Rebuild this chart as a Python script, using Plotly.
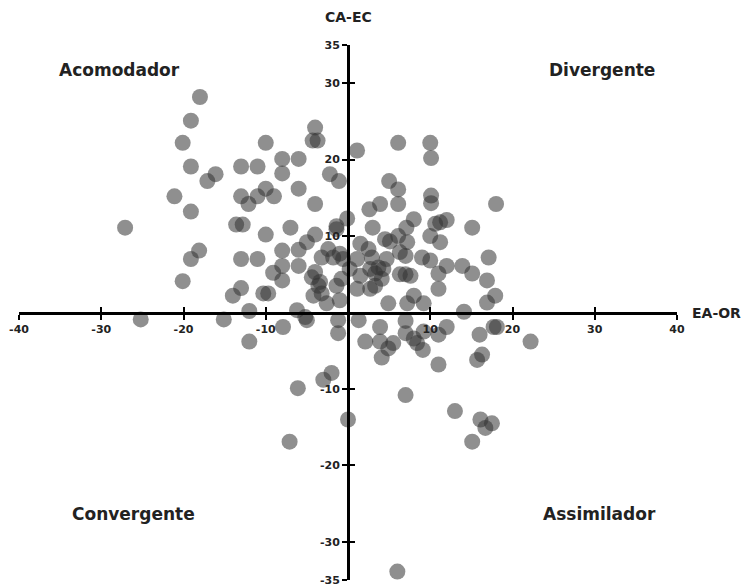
import plotly.graph_objects as go

# EA-OR (x) and CA-EC (y) scores
ea_or = [
    -18.0, -19.1, -20.1, -19.1, -16.1, -17.1, -21.1, -19.1, -27.1, -18.1, -19.1, -20.1,
    -10.0, -13.0, -11.0, -8.0, -6.0, -8.0, -4.0, -4.3, -3.7,
    -13.0, -12.1, -11.0, -10.0, -9.0, -6.0, -4.0, -2.2, -1.1,
    -13.6, -12.8, -10.0, -7.0, -4.0, -5.0, -6.0, -8.0,
    -13.0, -11.0, -8.0, -9.1, -8.0, -6.0,
    -13.0, -14.0, -10.3, -9.7, -12.0,
    -1.4, -2.4, -3.2, -1.8, -1.0, -0.6, -0.1, -1.4,
    -4.4, -4.0, -3.4, -3.6, -4.2, -3.2, -1.4, -1.0, -2.6, -0.8, -6.2, -5.2,
    1.1, 6.1, 10.0, 10.1, 5.0, 6.1, 10.1, 10.1, 6.1, 2.6, 3.9, 18.0,
    3.0, 8.0, 7.1, 10.6, 11.2, 12.0, 15.1,
    10.0, 11.2, 4.5, 5.1, 6.1, 7.2, 1.5, 2.5,
    6.3, 7.0, 4.7, 2.9, 9.0, 10.0, 12.0, 13.9, 15.1, 17.1, 11.0,
    6.3, 7.0, 7.6, 4.3, 4.1, 2.7, 3.7, 3.3, 1.1, 0.2, 1.5,
    16.9, 17.9, 16.9, 14.1, 8.0, 7.2, 9.2, 11.0, 4.9, 1.1, 2.7, 3.3,
    -25.2, -15.1, -12.0, -7.9, -5.0, -1.2, -1.2, 1.3, 2.1, 3.9, 3.9, 4.9, 5.5, 4.1,
    -2.0, -3.0, -6.1,
    7.0, 7.0, 8.0, 8.4, 9.1, 9.2, 11.0, 12.0, 11.0, 7.0, 16.0, 16.3, 15.7, 17.7, 18.1,
    22.2, 13.0, 16.1, 16.7, 17.5, 15.1, -7.1, 0.0, 6.0,
]
ca_ec = [
    28.2, 25.1, 22.2, 19.1, 18.1, 17.2, 15.2, 13.2, 11.1, 8.1, 7.0, 4.1,
    22.2, 19.1, 19.1, 20.1, 20.1, 18.2, 24.2, 22.5, 22.5,
    15.2, 14.2, 15.2, 16.2, 15.2, 16.2, 14.2, 18.1, 17.2,
    11.5, 11.5, 10.2, 11.1, 10.2, 9.2, 8.2, 8.1,
    7.0, 7.0, 6.1, 5.2, 4.2, 6.1,
    3.2, 2.2, 2.5, 2.5, 0.2,
    10.9, 8.3, 7.2, 7.2, 7.7, 7.0, 12.3, 11.3,
    4.6, 5.3, 4.0, 3.5, 2.2, 2.5, 3.5, 1.6, 1.2, 4.4, 0.3, -0.6,
    21.2, 22.2, 22.2, 20.2, 17.2, 16.1, 15.3, 14.3, 14.2, 13.5, 14.2, 14.2,
    11.1, 12.2, 11.1, 11.6, 11.8, 12.1, 11.1,
    10.0, 9.2, 9.6, 9.3, 10.0, 9.2, 9.0, 8.3,
    7.9, 7.4, 7.0, 7.2, 7.2, 6.8, 6.1, 6.1, 5.1, 7.2, 5.1,
    5.0, 5.0, 4.8, 5.7, 4.4, 5.7, 5.9, 5.1, 7.0, 5.7, 4.8,
    4.2, 2.2, 1.3, 0.1, 2.2, 1.2, 1.2, 3.1, 1.2, 3.1, 3.1, 3.5,
    -0.9, -0.9, -3.8, -1.9, -1.0, -1.0, -2.7, -1.0, -3.8, -1.9, -3.8, -4.7, -4.0, -5.9,
    -7.9, -8.8, -9.9,
    -1.1, -2.7, -3.4, -4.0, -4.9, -2.5, -2.9, -1.9, -6.8, -10.8, -2.9, -5.5, -6.2, -1.9, -1.9,
    -3.8, -12.9, -14.0, -15.1, -14.5, -16.9, -16.9, -14.0, -33.9,
]

x_ticks = [-40, -30, -20, -10, 10, 20, 30, 40]
y_ticks = [-35, -30, -20, -10, 10, 20, 30, 35]
x_ticktext = ["-40", "-30", "-20", "-10", "10", "20", "30", "40"]
y_ticktext = ["-35", "-30", "-20", "-10", "10", "20", "30", "35"]

quadrant_names = ["Acomodador", "Divergente", "Convergente", "Assimilador"]
quadrant_x = [-27.8, 30.9, -26.1, 30.6]
quadrant_y = [31.7, 31.7, -26.4, -26.4]

FONT = "DejaVu Sans"

fig = go.Figure()
fig.add_trace(go.Scatter(
    x=ea_or, y=ca_ec, mode="markers",
    marker=dict(size=16, color="#333333", opacity=0.55, line=dict(width=0)),
    hoverinfo="x+y", showlegend=False,
))
# empty trace so the overlay axes (inner half of the crossing ticks) get drawn
fig.add_trace(go.Scatter(x=[None], y=[None], xaxis="x2", yaxis="y2",
                         mode="markers", showlegend=False, hoverinfo="skip"))

axis_common = dict(showgrid=False, zeroline=False, showline=True,
                   linecolor="black", linewidth=3, tickcolor="black",
                   tickwidth=2, ticklen=5, automargin=False, fixedrange=True)

fig.update_layout(
    width=749, height=587,
    margin=dict(l=11, r=80, t=37, b=15),
    paper_bgcolor="white", plot_bgcolor="white",
    xaxis=dict(range=[-40, 40], anchor="free", position=0.5,
               tickmode="array", tickvals=x_ticks, ticktext=x_ticktext,
               ticks="outside",
               tickfont=dict(family=FONT, size=11, color="#222222", weight="bold"),
               **axis_common),
    yaxis=dict(range=[-35, 35], anchor="free", position=0.5,
               tickmode="array", tickvals=y_ticks, ticktext=y_ticktext,
               ticks="outside",
               tickfont=dict(family=FONT, size=11, color="#222222", weight="bold"),
               **axis_common),
    xaxis2=dict(range=[-40, 40], overlaying="x", anchor="free", position=0.5,
                tickmode="array", tickvals=x_ticks, ticks="inside",
                showticklabels=False, **axis_common),
    yaxis2=dict(range=[-35, 35], overlaying="y", anchor="free", position=0.5,
                tickmode="array", tickvals=y_ticks, ticks="inside",
                showticklabels=False, **axis_common),
)

for name, qx, qy in zip(quadrant_names, quadrant_x, quadrant_y):
    fig.add_annotation(x=qx, y=qy, xref="x", yref="y", text=name, showarrow=False,
                       font=dict(family=FONT, size=17, color="#222222", weight="bold"),
                       xanchor="center", yanchor="middle")

fig.add_annotation(x=0, y=1.052, xref="x", yref="paper", text="CA-EC", showarrow=False,
                   font=dict(family=FONT, size=14, color="#222222", weight="bold"),
                   xanchor="center", yanchor="middle")
fig.add_annotation(x=1.02, y=0, xref="paper", yref="y", text="EA-OR", showarrow=False,
                   font=dict(family=FONT, size=14, color="#222222", weight="bold"),
                   xanchor="left", yanchor="middle")

fig.write_html("out.html")
